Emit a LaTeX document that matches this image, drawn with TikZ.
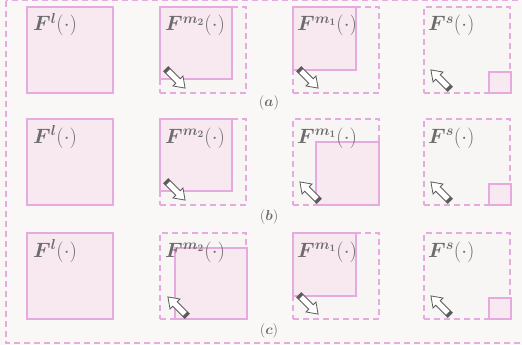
\documentclass[tikz,border=0pt]{standalone}
\usepackage{amsmath,bm}
\usetikzlibrary{calc}
\definecolor{bgcol}{HTML}{FAF8F6}
\definecolor{boxfill}{HTML}{F8E9F0}
\definecolor{boxline}{HTML}{E5ABDF}
\definecolor{slotfill}{HTML}{F7F6F5}
\definecolor{txtgray}{HTML}{6C6C6C}
\definecolor{arrowgray}{HTML}{5C5C5C}
\tikzset{
  pane/.style={draw=boxline, fill=boxfill, line width=1.2pt, inner sep=0pt, outer sep=0pt, anchor=north west},
  slot/.style={draw=boxline, fill=slotfill, dash pattern=on 6pt off 4pt, line width=1.2pt, inner sep=0pt, outer sep=0pt, anchor=north west, minimum width=86pt, minimum height=86pt},
  full/.style={minimum width=86pt, minimum height=86pt},
  mid/.style={minimum width=72pt, minimum height=72pt},
  small/.style={minimum width=63pt, minimum height=63pt},
  tiny/.style={minimum width=22pt, minimum height=21pt},
  fname/.style={text=txtgray, anchor=base west, inner sep=0pt, font=\fontsize{20}{22}\selectfont},
  caption/.style={text=txtgray, inner sep=0pt, font=\fontsize{14}{16}\selectfont},
  moveicon/.pic={
    \draw[arrowgray, fill=white, line width=0.8pt, line join=miter]
      (0,-3.2) -- (17,-3.2) -- (17,-7) -- (27,0) -- (17,7) -- (17,3.2) -- (0,3.2) -- cycle;
    \fill[arrowgray] (0,-3.2) rectangle (3,3.2);
  }
}
\newcommand{\grow}[1]{\pic[rotate=-45] at (#1) {moveicon};}
\newcommand{\shrink}[1]{\pic[rotate=135] at (#1) {moveicon};}
\begin{document}
\begin{tikzpicture}[x=1pt, y=-1pt]
  \useasboundingbox (0,0) rectangle (522,345);
  \clip (0,0) rectangle (522,345);
  \fill[bgcol] (0,0) rectangle (522,345);
  % outer frame
  \draw[boxline, dash pattern=on 6pt off 4pt, line width=1.2pt] (6,0.8) rectangle (540,343);

  % ---------- row (a) ----------
  \node[pane, full] (la) at (27,7) {};
  \node[fname] (tla) at (33,31) {$\bm{F^{l}}(\cdot)$};
  \node[slot] (sa2) at (160,7) {};
  \node[pane, mid] (pa2) at (160,7) {};
  \node[fname] (ta2) at (165,31) {$\bm{F^{m_2}}(\cdot)$};
  \grow{166,69}
  \node[slot] (sa1) at (293,7) {};
  \node[pane, small] (pa1) at (293,7) {};
  \node[fname] (ta1) at (297,31) {$\bm{F^{m_1}}(\cdot)$};
  \grow{299,69}
  \node[slot] (sas) at (424,7) {};
  \node[pane, tiny] (pas) at (489,72) {};
  \node[fname] (tas) at (428,31) {$\bm{F^{s}}(\cdot)$};
  \shrink{450,89}
  \node[caption] (ca) at (269,103) {$(\bm{a})$};

  % ---------- row (b) ----------
  \node[pane, full] (lb) at (27,119) {};
  \node[fname] (tlb) at (33,143) {$\bm{F^{l}}(\cdot)$};
  \node[slot] (sb2) at (160,119) {};
  \node[pane, mid] (pb2) at (160,119) {};
  \node[fname] (tb2) at (165,143) {$\bm{F^{m_2}}(\cdot)$};
  \grow{166,181}
  \node[slot] (sb1) at (293,119) {};
  \node[pane, small] (pb1) at (316,142) {};
  \node[fname] (tb1) at (297,143) {$\bm{F^{m_1}}(\cdot)$};
  \shrink{319,201}
  \node[slot] (sbs) at (424,119) {};
  \node[pane, tiny] (pbs) at (489,184) {};
  \node[fname] (tbs) at (428,143) {$\bm{F^{s}}(\cdot)$};
  \shrink{450,201}
  \node[caption] (cb) at (269,217) {$(\bm{b})$};

  % ---------- row (c) ----------
  \node[pane, full] (lc) at (27,233) {};
  \node[fname] (tlc) at (33,257) {$\bm{F^{l}}(\cdot)$};
  \node[slot] (sc2) at (160,233) {};
  \node[pane, minimum width=72pt, minimum height=71pt] (pc2) at (175,248) {};
  \node[fname] (tc2) at (165,257) {$\bm{F^{m_2}}(\cdot)$};
  \shrink{187,316}
  \node[slot] (sc1) at (293,233) {};
  \node[pane, small] (pc1) at (293,233) {};
  \node[fname] (tc1) at (297,257) {$\bm{F^{m_1}}(\cdot)$};
  \grow{299,295}
  \node[slot] (scs) at (424,233) {};
  \node[pane, tiny] (pcs) at (489,298) {};
  \node[fname] (tcs) at (428,257) {$\bm{F^{s}}(\cdot)$};
  \shrink{450,315}
  \node[caption] (cc) at (269,331) {$(\bm{c})$};
\end{tikzpicture}
\end{document}
